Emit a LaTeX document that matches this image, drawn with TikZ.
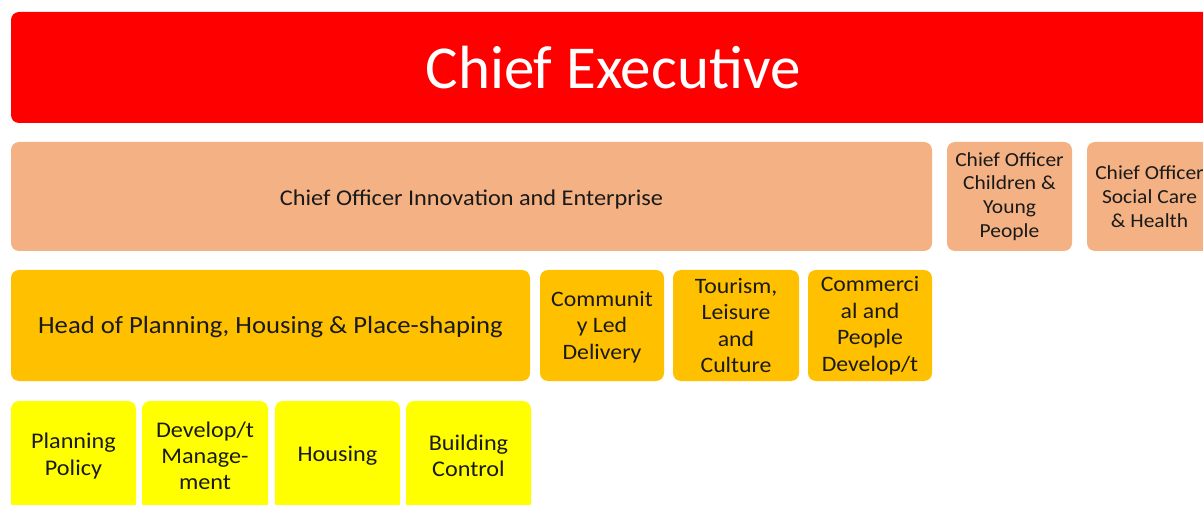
\documentclass[tikz,border=0pt]{standalone}
\usepackage{fontspec}
\setmainfont{Carlito}
\newfontfamily\wf[FakeStretch=1.08]{Carlito}
\definecolor{ceored}{HTML}{FF0000}
\definecolor{peach}{HTML}{F4B183}
\definecolor{gold}{HTML}{FFC000}
\definecolor{yel}{HTML}{FFFF00}
\definecolor{txt}{HTML}{1A1A1A}
\newcommand{\lowerby}[2]{\raisebox{-#1}[\height][\depth]{#2}}
\tikzset{
  box/.style={rounded corners=8pt, inner sep=0pt, align=center, text=txt, draw=none},
  ceobox/.style={box, fill=ceored, text=white, font=\fontsize{61}{72}\selectfont},
  cobox/.style={box, fill=peach, font=\wf\fontsize{19.9}{23.7}\selectfont},
  headbox/.style={box, fill=gold, font=\wf\fontsize{22}{26.5}\selectfont},
  unitbox/.style={box, fill=yel, font=\wf\fontsize{22.4}{26.3}\selectfont},
}
\begin{document}
\begin{tikzpicture}[x=1pt,y=-1pt]
\useasboundingbox (0,0) rectangle (1203,505);
\clip (0,0) rectangle (1203,505);
\node[ceobox, minimum width=1204pt, minimum height=111pt] (ceo) at (613,67.5) {Chief Executive};
\node[cobox, minimum width=921pt, minimum height=109pt, font=\wf\fontsize{22.5}{26}\selectfont] (cio) at (471.5,196.5) {\lowerby{3pt}{Chief Officer Innovation and Enterprise}};
\node[cobox, minimum width=125pt, minimum height=109pt] (cyp) at (1009.5,196.5) {Chief Officer\\Children \&\\Young\\People};
\node[cobox, minimum width=125pt, minimum height=109pt] (csh) at (1149.5,196.5) {Chief Officer\\Social Care\\\& Health};
\node[headbox, minimum width=519pt, minimum height=111pt, font=\wf\fontsize{24.7}{29}\selectfont] (hop) at (270.5,325.5) {\lowerby{2pt}{Head of Planning, Housing \& Place-shaping}};
\node[headbox, minimum width=124pt, minimum height=111pt] (cld) at (602,325.5) {\lowerby{2pt}{\begin{tabular}{@{}c@{}}Communit\\y Led\\Delivery\end{tabular}}};
\node[headbox, minimum width=126pt, minimum height=111pt] (tlc) at (736,325.5) {Tourism,\\Leisure\\and\\Culture};
\node[headbox, minimum width=124pt, minimum height=111pt] (cpd) at (870,325.5) {Commerci\\al and\\People\\Develop/t};
\node[unitbox, minimum width=125pt, minimum height=110pt] (pp) at (73.5,456) {Planning\\Policy};
\node[unitbox, minimum width=126pt, minimum height=110pt] (dm) at (205,456) {Develop/t\\Manage-\\ment};
\node[unitbox, minimum width=125pt, minimum height=110pt] (hs) at (337.5,456) {Housing};
\node[unitbox, minimum width=125pt, minimum height=110pt] (bc) at (468.5,456) {Building\\Control};
\end{tikzpicture}
\end{document}
